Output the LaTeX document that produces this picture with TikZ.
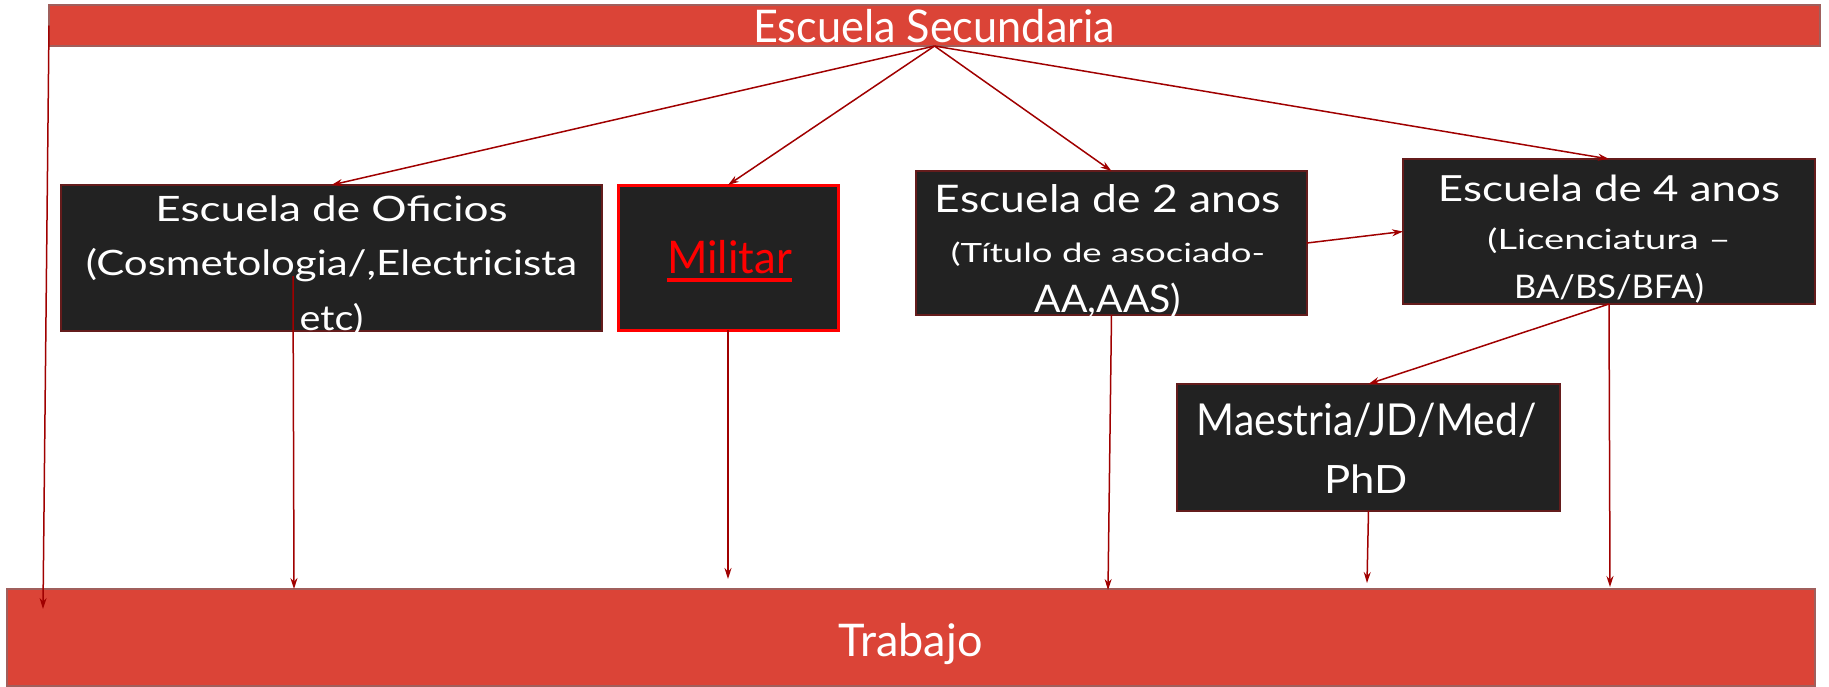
\documentclass[tikz,border=0pt]{standalone}
\usepackage{fontspec}
\setmainfont{Lato}
\usepackage{graphicx}
\usetikzlibrary{arrows.meta}
\definecolor{barred}{RGB}{219,68,55}
\definecolor{baredge}{RGB}{160,95,92}
\definecolor{boxfill}{RGB}{34,34,34}
\definecolor{boxedge}{RGB}{100,28,28}
\definecolor{militred}{RGB}{255,0,0}
\definecolor{linkred}{RGB}{160,0,0}
\tikzstyle{bar}=[rectangle,draw=baredge,fill=barred,line width=2.5pt,inner sep=0pt,outer sep=0pt]
\tikzstyle{school}=[rectangle,draw=boxedge,fill=boxfill,line width=2pt,inner sep=0pt,outer sep=0pt]
\tikzstyle{caption}=[text=white,align=center,inner sep=0pt,anchor=base]
\tikzstyle{link}=[draw=linkred,line width=1.5pt,-{Stealth[length=11pt,width=7pt]}]
% one line of text: horizontal stretch, size, text
\newcommand{\tline}[3]{\scalebox{#1}[1]{\fontsize{#2}{#2}\selectfont #3}}
\newcommand{\redrule}[1]{\setbox0\hbox{#1}\rlap{\raisebox{-9pt}{\rule{\wd0}{4pt}}}\box0}

\begin{document}
\begin{tikzpicture}[x=1pt,y=-1pt]
\useasboundingbox (0,0) rectangle (1829,686);
\path node[bar,minimum width=1771pt,minimum height=41pt] (sec) at (934.5,25.5) {}
    node[bar,minimum width=1808pt,minimum height=97pt] (trab) at (911,637.5) {}
    node[school,minimum width=541pt,minimum height=146pt] (ofi) at (331.5,258) {}
    node[school,draw=militred,line width=3pt,minimum width=220pt,minimum height=145pt] (mil) at (728,257.5) {}
    node[school,minimum width=391pt,minimum height=144pt] (dos) at (1111.5,243) {}
    node[school,minimum width=412pt,minimum height=145pt] (cuatro) at (1609,231.5) {}
    node[school,minimum width=383pt,minimum height=127pt] (mae) at (1368.5,447.5) {};
% captions sit on the baseline of their last line
\path node[caption] (sec-t) at (934,42) {\tline{0.96}{45}{Escuela Secundaria}}
    node[caption] (trab-t) at (910.5,656) {\tline{1}{45}{Trabajo}}
    node[caption,font=\fontsize{35}{54.5}\selectfont] (ofi-t) at (331.5,330)
        {\tline{1.26}{35}{Escuela de Oficios}\\\tline{1.2}{35}{(Cosmetologia/,Electricista}\\\tline{1.13}{35}{etc)}}
    node[caption,text=militred] (mil-t) at (729.5,273) {\tline{0.97}{45}{\redrule{Militar}}}
    node[caption,font=\fontsize{38}{50}\selectfont] (dos-t) at (1108,312)
        {\tline{1.17}{38}{Escuela de 2 anos}\\\tline{1.38}{26.5}{(Título de asociado-}\\\tline{1.03}{38}{AA,AAS)}}
    node[caption,font=\fontsize{36}{48.5}\selectfont] (cuatro-t) at (1609,298)
        {\tline{1.22}{36}{Escuela de 4 anos}\\\tline{1.36}{28}{(Licenciatura –}\\\tline{1.06}{32.5}{BA/BS/BFA)}}
    node[caption,font=\fontsize{44}{58}\selectfont] (mae-t) at (1366.5,493)
        {\tline{0.93}{44}{Maestria/JD/Med/}\\\tline{1.12}{39}{PhD}};
\coordinate (t0) at (43,609);
\coordinate (o0) at (293,276);
\coordinate (t1) at (294,589);
\coordinate (t2) at (728,579);
\coordinate (t3) at (1108,590);
\coordinate (t4) at (1367,583);
\coordinate (t5) at (1610,587);
\path (sec.south) edge[link] (ofi.north)
    (sec.south) edge[link] (mil.north)
    (sec.south) edge[link] (dos.north)
    (sec.south) edge[link] (cuatro.north)
    (dos.east) edge[link] (cuatro.west)
    (cuatro.south) edge[link] (mae.north)
    (sec.west) edge[link] (t0)
    (o0) edge[link] (t1)
    (mil.south) edge[link] (t2)
    (dos.south) edge[link] (t3)
    (mae.south) edge[link] (t4)
    (cuatro.south) edge[link] (t5);
\end{tikzpicture}
\end{document}
